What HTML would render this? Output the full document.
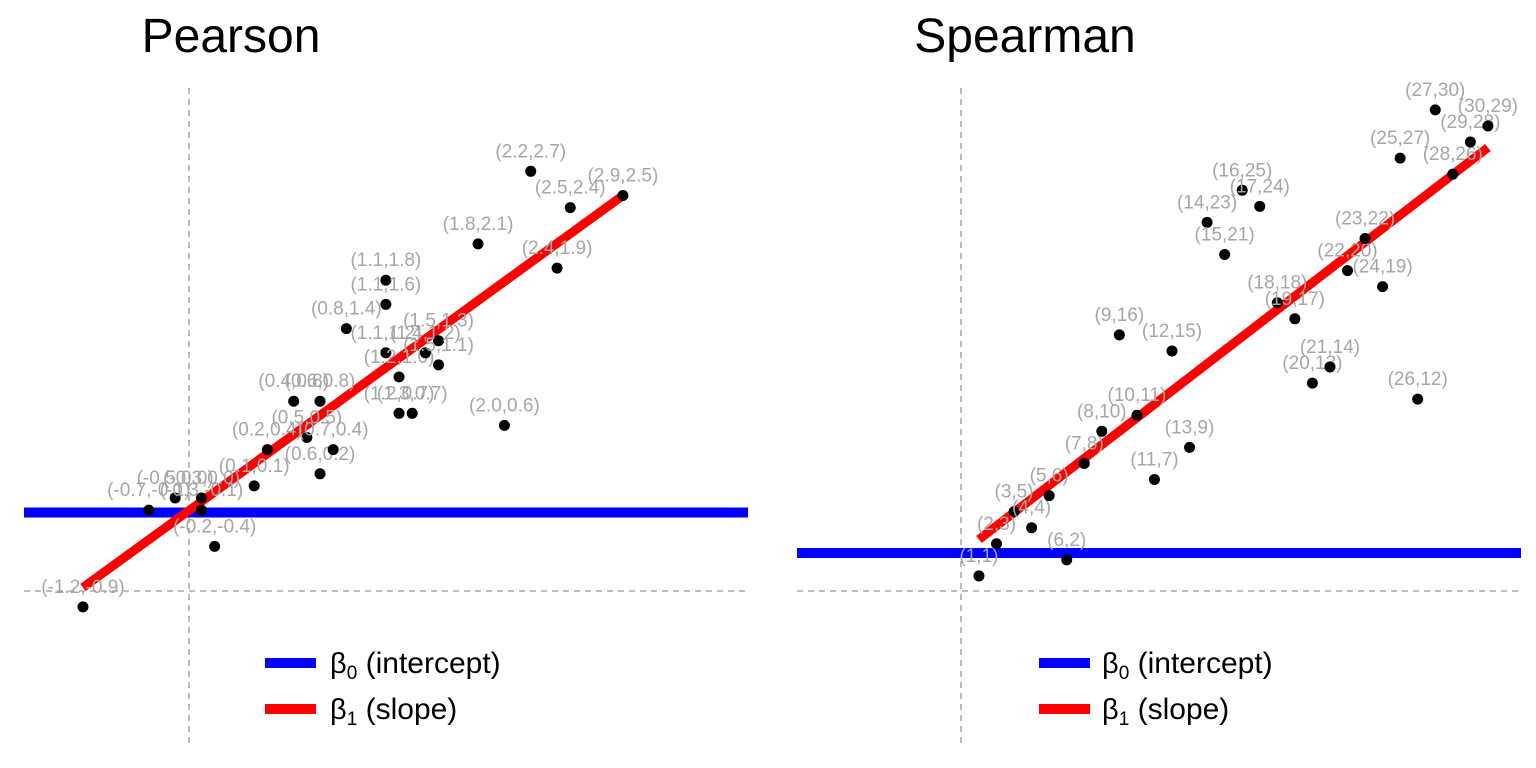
<!DOCTYPE html>
<html><head><meta charset="utf-8"><style>
html,body{margin:0;padding:0;background:#fff;}
svg{display:block;font-family:"Liberation Sans",Arial,sans-serif;}
</style></head><body>
<svg id="chart" width="1536" height="768" viewBox="0 0 1536 768">
<text x="231" y="52" font-size="48" text-anchor="middle">Pearson</text>
<text x="1025" y="52" font-size="48" text-anchor="middle">Spearman</text>
<g id="pear"></g>
<g id="spear"></g>
<g>
<rect x="265" y="658" width="51" height="10" fill="#0000ff"/>
<text x="330" y="673" font-size="29">β<tspan font-size="19" dy="6">0</tspan><tspan dy="-6" font-size="30"> (intercept)</tspan></text>
<rect x="265" y="704" width="51" height="10" fill="#ff0000"/>
<text x="330" y="719" font-size="29">β<tspan font-size="19" dy="6">1</tspan><tspan dy="-6" font-size="30"> (slope)</tspan></text>
</g>
<g>
<rect x="1039" y="658" width="51" height="10" fill="#0000ff"/>
<text x="1102" y="673" font-size="29">β<tspan font-size="19" dy="6">0</tspan><tspan dy="-6" font-size="30"> (intercept)</tspan></text>
<rect x="1039" y="704" width="51" height="10" fill="#ff0000"/>
<text x="1102" y="719" font-size="29">β<tspan font-size="19" dy="6">1</tspan><tspan dy="-6" font-size="30"> (slope)</tspan></text>
</g>
</svg>
<script>
const pearsonX=[-1.2,-0.7,-0.5,-0.3,-0.3,-0.2,0.1,0.2,0.4,0.5,0.6,0.6,0.7,0.8,1.1,1.1,1.1,1.2,1.2,1.3,1.4,1.5,1.5,1.8,2.0,2.2,2.4,2.5,2.9];
const pearsonY=[-0.9,-0.1,0.0,-0.1,0.0,-0.4,0.1,0.4,0.8,0.5,0.2,0.8,0.4,1.4,1.8,1.6,1.2,1.0,0.7,0.7,1.2,1.3,1.1,2.1,0.6,2.7,1.9,2.4,2.5];
const pearsonIntercept=-0.12;
const pearsonLineStart=[-1.2,-0.74];
const pearsonLineEnd=[2.9,2.5];
const spearmanX=[1,2,3,4,5,6,7,8,9,10,11,12,13,14,15,16,17,18,19,20,21,22,23,24,25,26,27,28,29,30];
const spearmanY=[1,3,5,4,6,2,8,10,16,11,7,15,9,23,21,25,24,18,17,13,14,20,22,19,27,12,30,26,28,29];
const spearmanIntercept=2.43;
const spearmanSlope=0.841;

const NS="http://www.w3.org/2000/svg";
function mk(parent,tag,attrs){const e=document.createElementNS(NS,tag);for(const k in attrs)e.setAttribute(k,attrs[k]);parent.appendChild(e);return e;}

function panel(g,sx,sy,xs,ys,fmt,dash,hline,line,left,right){
  let e=mk(g,'line',{x1:dash.vx,x2:dash.vx,y1:88,y2:745,stroke:'#999','stroke-width':1.3,'stroke-dasharray':'6,5'});
  
  
  e=mk(g,'line',{x1:left,x2:right,y1:dash.hy,y2:dash.hy,stroke:'#999','stroke-width':1.3,'stroke-dasharray':'6,5'});
  
  
  e=mk(g,'line',{x1:left,x2:right,y1:sy(hline),y2:sy(hline),stroke:'#0000ff','stroke-width':10});
  
  
  e=mk(g,'line',{x1:sx(line[0][0]),y1:sy(line[0][1]),x2:sx(line[1][0]),y2:sy(line[1][1]),stroke:'#ff0000','stroke-width':9});
  
  
  for(let i=0;i<xs.length;i++){
    const c=mk(g,'circle',{cx:sx(xs[i]),cy:sy(ys[i]),r:5.5,fill:'#000'});
    
    
    const t=mk(g,'text',{x:sx(xs[i]),y:sy(ys[i])-14,'font-size':19,fill:'#a6a6a6','text-anchor':'middle'});
    t.textContent='('+fmt(xs[i])+','+fmt(ys[i])+')';
    
    
  }
}
const pX=v=>241+131.7*v, pY=v=>498-121*v;
panel(document.getElementById('pear'),pX,pY,pearsonX,pearsonY,v=>v.toFixed(1),{vx:189,hy:591},pearsonIntercept,[pearsonLineStart,pearsonLineEnd],24,748);
const sX=v=>961.4+17.55*v, sY=v=>592-16.07*v;
panel(document.getElementById('spear'),sX,sY,spearmanX,spearmanY,v=>String(v),{vx:961,hy:591},spearmanIntercept,[[1,spearmanIntercept+spearmanSlope*1],[30,spearmanIntercept+spearmanSlope*30]],797,1521);
</script>
</body></html>
